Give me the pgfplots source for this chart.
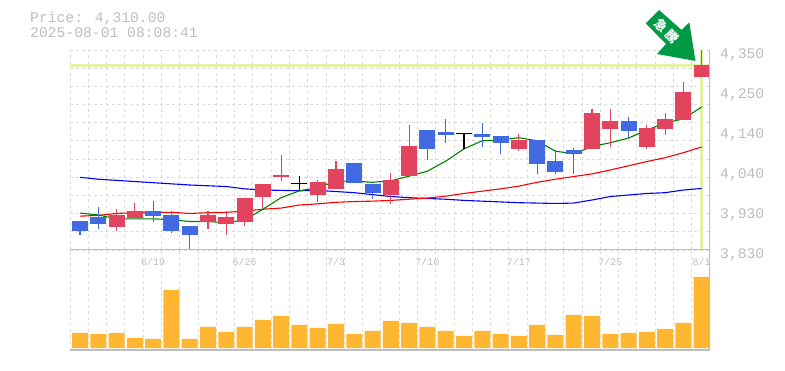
\documentclass[border=0pt]{standalone}
\usepackage{pgfplots}
\pgfplotsset{compat=1.18}
\usepackage{fontspec}
\setmainfont{Liberation Mono}
\newfontfamily\cjk{Noto Sans CJK JP}
\definecolor{lab}{HTML}{BDBDBD}
\definecolor{gridc}{HTML}{DCDCDC}
\definecolor{framec}{HTML}{BEBEBE}
\definecolor{hl}{HTML}{E2F2A6}
\definecolor{upc}{HTML}{E2435F}
\definecolor{dnc}{HTML}{4169E1}
\definecolor{volc}{HTML}{FFB732}
\definecolor{arr}{HTML}{009944}
\definecolor{mag}{HTML}{008000}
\pgfplotsset{
  panel/.style={
    scale only axis, width=640pt,
    xmin=-0.547, xmax=34.453,
    xtick={-0.547,0.453,1.453,2.453,3.453,4.453,5.453,6.453,7.453,8.453,9.453,10.453,11.453,12.453,13.453,14.453,15.453,16.453,17.453,18.453,19.453,20.453,21.453,22.453,23.453,24.453,25.453,26.453,27.453,28.453,29.453,30.453,31.453,32.453,33.453},
    xticklabels={},
    xmajorgrids,
    grid style={gridc, dash pattern=on 3pt off 3pt, line width=0.9pt},
    axis line style={draw=none},
    major tick length=0pt, tick style={draw=none},
    unbounded coords=jump,
  },
  wick/.style={line width=1.1pt, no marks},
  body/.style={line width=16pt, no marks},
  ma/.style={line width=1.1pt, no marks},
}
\begin{document}
\begin{tikzpicture}
\path[use as bounding box] (0,0) rectangle (785pt,370pt);
\node[anchor=base west, text=lab, font=\fontsize{14.7}{15}\selectfont, inner sep=0pt] at (30pt,347pt) {Price: 4,310.00};
\node[anchor=base west, text=lab, font=\fontsize{14.7}{15}\selectfont, inner sep=0pt] at (30pt,332pt) {2025-08-01 08:08:41};

% price panel
\begin{axis}[panel, at={(70pt,120pt)}, anchor=south west, height=200pt,
  ymin=3830, ymax=4350,
  ymajorgrids,
  ytick={3830,3877.3,3924.5,3971.8,4019.1,4066.4,4113.6,4160.9,4208.2,4255.5,4302.7,4350},
  yticklabels={},
  extra y ticks={4350,4246,4142,4038,3934,3830},
  extra y tick labels={{4,350},{4,250},{4,140},{4,040},{3,930},{3,830}},
  extra y tick style={grid=none, yticklabel pos=right, yticklabel style={text=lab, font=\fontsize{14.7}{15}\selectfont, anchor=west, xshift=10pt, yshift=-5pt, inner sep=0pt}},
  extra x ticks={4,9,14,19,24,29,34},
  extra x tick labels={6/19,6/26,7/3,7/10,7/17,7/25,8/1},
  extra x tick style={grid=none, xticklabel style={text=lab, font=\fontsize{10}{10}\selectfont, yshift=-6.5pt, inner sep=2pt}},
]
\addplot[hl, line width=3pt, no marks] coordinates {(-0.547,4310) (34.453,4310)};
\addplot[hl, line width=3pt, no marks] coordinates {(34,3830) (34,4350)};
\addplot[ma, color=blue] coordinates {
(0,4019)(1,4014)(2,4011)(3,4008)(4,4005)(5,4002)(6,3999)(7,3997)(8,3995)(9,3989)(10,3986)(11,3985)(12,3984)(13,3985)(14,3982)(15,3979)(16,3974)(17,3969)(18,3966)(19,3964)(20,3962)(21,3959)(22,3957)(23,3955)(24,3953)(25,3952)(26,3951)(27,3952)(28,3960)(29,3969)(30,3973)(31,3977)(32,3979)(33,3986)(34,3990)};
\addplot[ma, color=red] coordinates {
(0,3918)(1,3920)(2,3925)(3,3927)(4,3928)(5,3928)(6,3925)(7,3927)(8,3928)(9,3931)(10,3936)(11,3939)(12,3947)(13,3950)(14,3954)(15,3956)(16,3957)(17,3959)(18,3962)(19,3965)(20,3970)(21,3977)(22,3983)(23,3989)(24,3996)(25,4006)(26,4014)(27,4021)(28,4028)(29,4038)(30,4049)(31,4060)(32,4070)(33,4083)(34,4098)};
\addplot[ma, color=mag] coordinates {
(0,3926)(1,3921)(2,3911)(3,3911)(4,3911)(5,3909)(6,3904)(7,3904)(8,3901)(9,3908)(10,3936)(11,3966)(12,3984)(13,3992)(14,4009)(15,4009)(16,4006)(17,4010)(18,4022)(19,4035)(20,4061)(21,4093)(22,4114)(23,4116)(24,4122)(25,4114)(26,4087)(27,4080)(28,4099)(29,4109)(30,4121)(31,4142)(32,4160)(33,4171)(34,4202)};
% up candles
\addplot[wick, color=upc] coordinates {
(2,3937)(2,3879)(2,nan)
(3,3952)(3,3913)(3,nan)
(7,3931)(7,3885)(7,nan)
(8,3931)(8,3869)(8,nan)
(9,3965)(9,3892)(9,nan)
(10,4002)(10,3939)(10,nan)
(11,4077)(11,4009)(11,nan)
(13,4012)(13,3955)(13,nan)
(14,4061)(14,3989)(14,nan)
(17,4030)(17,3950)(17,nan)
(18,4155)(18,4022)(18,nan)
(24,4132)(24,4087)(24,nan)
(28,4197)(28,4093)(28,nan)
(29,4197)(29,4098)(29,nan)
(31,4155)(31,4093)(31,nan)
(32,4186)(32,4129)(32,nan)
(33,4267)(33,4168)(33,nan)
(34,4350)(34,4280)};
\addplot[body, color=upc] coordinates {
(2,3921)(2,3890)(2,nan)
(3,3931)(3,3913)(3,nan)
(7,3921)(7,3903)(7,nan)
(8,3916)(8,3898)(8,nan)
(9,3965)(9,3903)(9,nan)
(10,4002)(10,3968)(10,nan)
(11,4025)(11,4020)(11,nan)
(13,4007)(13,3973)(13,nan)
(14,4041)(14,3989)(14,nan)
(17,4012)(17,3973)(17,nan)
(18,4100)(18,4022)(18,nan)
(24,4116)(24,4093)(24,nan)
(28,4186)(28,4093)(28,nan)
(29,4165)(29,4145)(29,nan)
(31,4147)(31,4098)(31,nan)
(32,4171)(32,4145)(32,nan)
(33,4241)(33,4168)(33,nan)
(34,4311)(34,4280)};
% down candles
\addplot[wick, color=dnc] coordinates {
(0,3905)(0,3869)(0,nan)
(1,3942)(1,3885)(1,nan)
(4,3957)(4,3903)(4,nan)
(5,3931)(5,3874)(5,nan)
(6,3892)(6,3830)(6,nan)
(15,4056)(15,4003)(15,nan)
(16,4002)(16,3963)(16,nan)
(19,4142)(19,4064)(19,nan)
(20,4171)(20,4108)(20,nan)
(22,4160)(22,4098)(22,nan)
(23,4126)(23,4080)(23,nan)
(25,4116)(25,4028)(25,nan)
(26,4090)(26,4028)(26,nan)
(27,4095)(27,4028)(27,nan)
(30,4176)(30,4121)};
\addplot[body, color=dnc] coordinates {
(0,3905)(0,3879)(0,nan)
(1,3916)(1,3898)(1,nan)
(4,3931)(4,3918)(4,nan)
(5,3921)(5,3879)(5,nan)
(6,3892)(6,3869)(6,nan)
(15,4056)(15,4003)(15,nan)
(16,4002)(16,3978)(16,nan)
(19,4142)(19,4093)(19,nan)
(20,4137)(20,4129)(20,nan)
(22,4132)(22,4124)(22,nan)
(23,4126)(23,4108)(23,nan)
(25,4116)(25,4054)(25,nan)
(26,4061)(26,4033)(26,nan)
(27,4090)(27,4080)(27,nan)
(30,4165)(30,4139)};
% flat candles
\addplot[wick, color=black] coordinates {
(12,4022)(12,3986)(12,nan)
(21,4132)(21,4093)(21,nan)
(11.5625,4002)(12.4375,4002)(12.4375,nan)
(20.5625,4132)(21.4375,4132)};
% frame
\draw[framec, line width=1.6pt] (rel axis cs:0,0) -- (rel axis cs:1,0);
\draw[framec, line width=1.1pt] (rel axis cs:1,0) -- (rel axis cs:1,1);
\end{axis}

% volume panel
\begin{axis}[panel, at={(70pt,20pt)}, anchor=south west, height=100pt,
  ymin=-2, ymax=98, ytick=\empty, ybar, bar width=16pt,
]
\addplot[fill=volc, draw=none] coordinates {
(0,15)(1,14)(2,15)(3,10)(4,9)(5,58)(6,9)(7,21)(8,16)(9,21)(10,28)(11,32)(12,23)(13,20)(14,24)(15,14)(16,17)(17,27)(18,25)(19,21)(20,17)(21,12)(22,17)(23,14)(24,12)(25,23)(26,13)(27,33)(28,32)(29,14)(30,15)(31,16)(32,19)(33,25)(34,71)};
\draw[framec, line width=1.6pt] (rel axis cs:0,0) -- (rel axis cs:1,0);
\draw[framec, line width=1.1pt] (rel axis cs:1,0) -- (rel axis cs:1,1);
\end{axis}

% arrow annotation
\fill[arr] (659pt,360pt) -- (645.7pt,346.7pt) -- (666pt,326pt) -- (657pt,316pt) -- (695.5pt,309pt) -- (689.3pt,347.7pt) -- (681.7pt,340pt) -- cycle;
\node[rotate=-45, text=white, font=\cjk\bfseries\fontsize{12.5}{12.5}\selectfont, inner sep=0pt] at (666.5pt,338.5pt) {急\hspace{3pt}騰};
\end{tikzpicture}
\end{document}
